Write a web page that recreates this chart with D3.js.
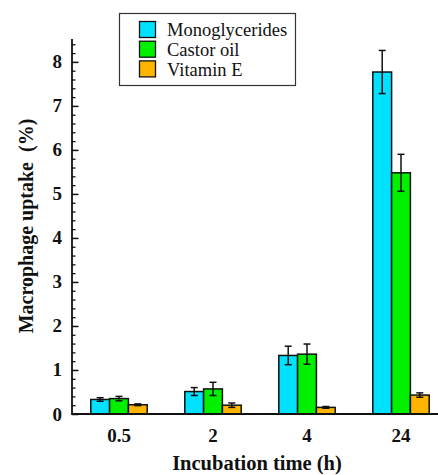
<!DOCTYPE html>
<html><head><meta charset="utf-8">
<script src="https://cdn.jsdelivr.net/npm/d3@7"></script>
</head><body style="margin:0">
<script>
const categories = ["0.5", "2", "4", "24"];
const seriesNames = ["Monoglycerides", "Castor oil", "Vitamin E"];
const monoglycerides = [0.33, 0.51, 1.33, 7.77];
const monoglyceridesErr = [0.04, 0.09, 0.21, 0.49];
const castorOil = [0.35, 0.57, 1.36, 5.48];
const castorOilErr = [0.05, 0.15, 0.23, 0.42];
const vitaminE = [0.21, 0.20, 0.15, 0.43];
const vitaminEErr = [0.02, 0.05, 0.02, 0.05];
const yTicks = [0, 1, 2, 3, 4, 5, 6, 7, 8];
const colors = ["#00E1FF", "#00F000", "#FFB400"];

const values = [monoglycerides, castorOil, vitaminE];
const errs = [monoglyceridesErr, castorOilErr, vitaminEErr];

const W = 438, H = 475;
const svg = d3.select("body").append("svg").attr("width", W).attr("height", H)
  .style("font-family", '"Liberation Serif"').style("display", "block");

const x0 = 72, yBase = 414;
const x = d3.scaleBand().domain(categories).range([x0, x0 + 4 * 94]).paddingInner(0.4).paddingOuter(0.2);
const xs = d3.scaleBand().domain(seriesNames).range([0, x.bandwidth()]);
const y = d3.scaleLinear().domain([0, 8.52]).range([yBase, 39]);

function addText(parent, tx, ty, str, size, bold, anchor, transform) {
  const t = parent.append("text").style("font-family", '"Liberation Serif"')
    .attr("font-size", size).attr("fill", "#111").text(str);
  if (bold) t.attr("font-weight", "bold");
  if (anchor) t.attr("text-anchor", anchor);
  if (transform) t.attr("transform", transform); else t.attr("x", tx).attr("y", ty);
  return t;
}

// bars
seriesNames.forEach((s, si) => {
  const g = svg.append("g");
  g.selectAll("rect").data(categories).join("rect")
    .attr("x", (c) => x(c) + xs(s))
    .attr("y", (c, i) => y(values[si][i]))
    .attr("width", xs.bandwidth())
    .attr("height", (c, i) => y(0) - y(values[si][i]))
    .attr("fill", colors[si]).attr("stroke", "#111").attr("stroke-width", 1.5);
  categories.forEach((c, i) => {
    const cx = x(c) + xs(s) + xs.bandwidth() / 2;
    const hi = y(values[si][i] + errs[si][i]), lo = y(values[si][i] - errs[si][i]);
    g.append("line").attr("x1", cx).attr("x2", cx).attr("y1", hi).attr("y2", lo).attr("stroke", "#111").attr("stroke-width", 1.5);
    [hi, lo].forEach(yy => g.append("line").attr("x1", cx - 3.5).attr("x2", cx + 3.5).attr("y1", yy).attr("y2", yy).attr("stroke", "#111").attr("stroke-width", 1.5));
  });
});

// y axis ticks (minor + major)
const minor = d3.range(0, 8.51, 0.2).filter(v => Math.abs(v - Math.round(v)) > 0.01);
svg.append("g").attr("transform", `translate(${x0},0)`)
  .call(d3.axisRight(y).tickValues(minor).tickSize(3.5).tickFormat(""))
  .call(g => g.select(".domain").remove())
  .call(g => g.selectAll("line").attr("stroke", "#111").attr("stroke-width", 1.3));
svg.append("g").attr("transform", `translate(${x0},0)`)
  .call(d3.axisRight(y).tickValues(yTicks).tickSize(6.5).tickFormat(""))
  .call(g => g.select(".domain").remove())
  .call(g => g.selectAll("line").attr("stroke", "#111").attr("stroke-width", 1.5));
const yl = svg.append("g");
yTicks.forEach(v => addText(yl, x0 - 10, y(v) + 6.5, String(v), 19, true, "end"));
svg.append("line").attr("x1", x0).attr("x2", x0).attr("y1", 39).attr("y2", yBase + 0.9).attr("stroke", "#111").attr("stroke-width", 1.8);

// x axis
const xl = svg.append("g");
categories.forEach(c => addText(xl, x(c) + x.bandwidth() / 2, yBase + 28, c, 19, true, "middle"));
svg.append("line").attr("x1", x0).attr("x2", W).attr("y1", yBase).attr("y2", yBase).attr("stroke", "#111").attr("stroke-width", 1.8);

// titles
addText(svg, 257, 470, "Incubation time (h)", 20.5, true, "middle");
addText(svg, 0, 0, "Macrophage uptake \u00a0(%)", 20, true, "middle", "translate(33,226) rotate(-90)");

// legend
const lg = svg.append("g");
lg.append("rect").attr("x", 119.5).attr("y", 13.5).attr("width", 176).attr("height", 72)
  .attr("fill", "#fff").attr("stroke", "#333").attr("stroke-width", 1.2);
seriesNames.forEach((s, i) => {
  lg.append("rect").attr("x", 139.5).attr("y", 21.5 + i * 19.7).attr("width", 16).attr("height", 16)
    .attr("fill", colors[i]).attr("stroke", "#111").attr("stroke-width", 1.3);
  addText(lg, 167, 35.7 + i * 20, s, 18.5, false);
});
</script>
</body></html>
